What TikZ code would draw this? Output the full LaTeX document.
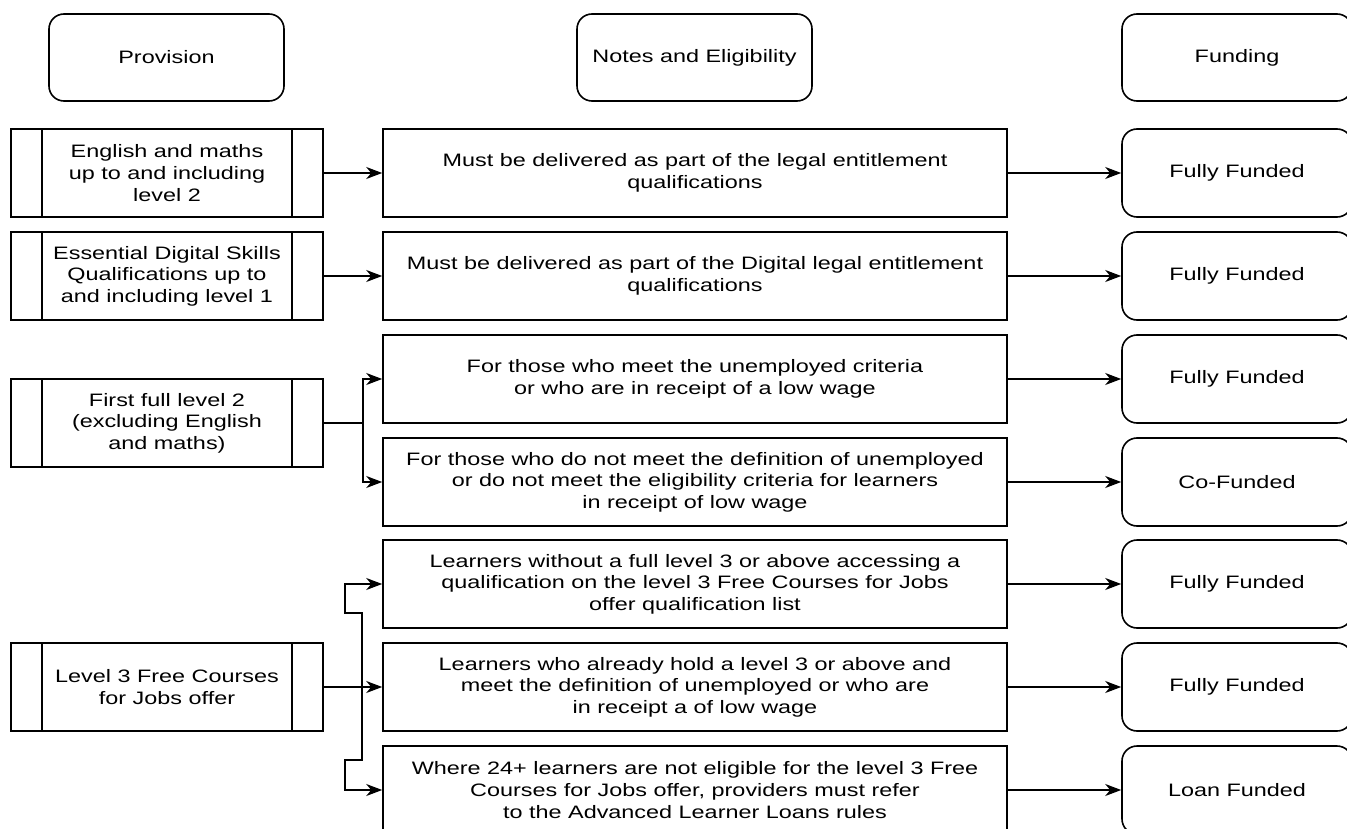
\documentclass[tikz,border=0pt]{standalone}
\usepackage{fontspec}
\setmainfont{Liberation Sans}[FakeStretch=1.3]
\usetikzlibrary{arrows.meta}

\begin{document}
\begin{tikzpicture}[x=1pt,y=-1pt,
    every node/.style={font=\fontsize{18}{21.6}\selectfont, align=center, line width=1.6pt},
    head/.style={draw, rounded corners=15pt, minimum width=235pt, minimum height=87pt},
    prov/.style={draw, minimum width=312pt, minimum height=88pt,
      path picture={\draw[line width=1.6pt]
        ([xshift=31pt]path picture bounding box.north west) -- ([xshift=31pt]path picture bounding box.south west)
        ([xshift=-31pt]path picture bounding box.north east) -- ([xshift=-31pt]path picture bounding box.south east);}},
    note/.style={draw, minimum width=624pt, minimum height=88pt},
    fund/.style={draw, rounded corners=15pt, minimum width=230pt, minimum height=88pt},
    link/.style={-{Stealth[length=16pt,width=12pt,inset=5pt]}, line width=1.4pt}]
    \useasboundingbox (0,0) rectangle (1347,829);

    \node[head] (a) at (166.5,57.5) {Provision};
    \node[head] (b) at (694.5,57.5) {Notes and Eligibility};
    \node[head, minimum width=230pt] (c) at (1237,57.5) {Funding};

    \node[prov] (d) at (167,173) {English and maths\\up to and including\\level 2};
    \node[prov] (e) at (167,276) {Essential Digital Skills\\Qualifications up to\\and including level 1};
    \node[prov] (f) at (167,423) {First full level 2\\(excluding English\\and maths)};
    \node[prov] (g) at (167,687) {Level 3 Free Courses\\for Jobs offer};

    \node[note] (h) at (695,173) {Must be delivered as part of the legal entitlement\\qualifications};
    \node[note] (i) at (695,276) {Must be delivered as part of the Digital legal entitlement\\qualifications};
    \node[note] (j) at (695,379) {For those who meet the unemployed criteria\\or who are in receipt of a low wage};
    \node[note] (k) at (695,482) {For those who do not meet the definition of unemployed\\or do not meet the eligibility criteria for learners\\in receipt of low wage};
    \node[note] (l) at (695,584) {Learners without a full level 3 or above accessing a\\qualification on the level 3 Free Courses for Jobs\\offer qualification list};
    \node[note] (m) at (695,687) {Learners who already hold a level 3 or above and\\meet the definition of unemployed or who are\\in receipt a of low wage};
    \node[note] (n) at (695,790) {Where 24+ learners are not eligible for the level 3 Free\\Courses for Jobs offer, providers must refer\\to the Advanced Learner Loans rules};

    \node[fund] (o) at (1237,173) {Fully Funded};
    \node[fund] (p) at (1237,276) {Fully Funded};
    \node[fund] (q) at (1237,379) {Fully Funded};
    \node[fund] (r) at (1237,482) {Co-Funded};
    \node[fund] (s) at (1237,584) {Fully Funded};
    \node[fund] (t) at (1237,687) {Fully Funded};
    \node[fund] (u) at (1237,790) {Loan Funded};

    \draw[link] (d) -- (h);
    \draw[link] (e) -- (i);
    \draw[link] (f.east) -- ++(39,0) |- (j);
    \draw[link] (f.east) -- ++(39,0) |- (k);
    \draw[link] (g.east) -- ++(38,0) -- ++(0,-74) -- ++(-17,0) |- (l);
    \draw[link] (g) -- (m);
    \draw[link] (g.east) -- ++(38,0) -- ++(0,73) -- ++(-17,0) |- (n);
    \draw[link] (h) -- (o);
    \draw[link] (i) -- (p);
    \draw[link] (j) -- (q);
    \draw[link] (k) -- (r);
    \draw[link] (l) -- (s);
    \draw[link] (m) -- (t);
    \draw[link] (n) -- (u);
  \end{tikzpicture}
\end{document}
